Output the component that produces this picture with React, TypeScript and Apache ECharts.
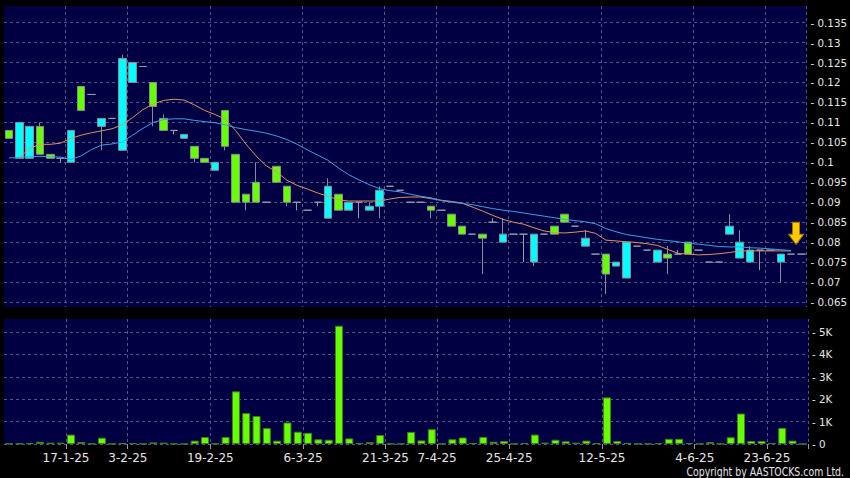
import React, { useEffect, useRef } from "react";
import * as echarts from "echarts";

// ---- data ----
// one slot per trading day shown; labels sit on the left boundary of these slots
const dateLabels: [number, string][] = [
  [6, "17-1-25"], [12, "3-2-25"], [20, "19-2-25"], [29, "6-3-25"], [37, "21-3-25"],
  [42, "7-4-25"], [49, "25-4-25"], [58, "12-5-25"], [67, "4-6-25"], [74, "23-6-25"],
];
const slotCount = 78;
const categories: string[] = Array.from({ length: slotCount }, (_, i) => "d" + i);

// [open, close, low, high]
const ohlc: number[][] = [
  [0.108, 0.106, 0.106, 0.108], [0.101, 0.110, 0.101, 0.110], [0.101, 0.109, 0.101, 0.109], [0.109, 0.102, 0.102, 0.110],
  [0.102, 0.101, 0.101, 0.102], [0.101, 0.101, 0.100, 0.101], [0.100, 0.108, 0.100, 0.108], [0.119, 0.113, 0.113, 0.119],
  [0.117, 0.117, 0.117, 0.117], [0.109, 0.111, 0.103, 0.111], [0.111, 0.111, 0.111, 0.111], [0.103, 0.126, 0.103, 0.127],
  [0.120, 0.125, 0.120, 0.125], [0.124, 0.124, 0.124, 0.124], [0.120, 0.114, 0.109, 0.120], [0.111, 0.108, 0.108, 0.112],
  [0.108, 0.108, 0.107, 0.108], [0.106, 0.107, 0.106, 0.107], [0.104, 0.101, 0.100, 0.104], [0.101, 0.100, 0.100, 0.101],
  [0.098, 0.100, 0.098, 0.100], [0.113, 0.104, 0.103, 0.113], [0.102, 0.090, 0.090, 0.102], [0.092, 0.090, 0.088, 0.092],
  [0.095, 0.090, 0.090, 0.100], [0.090, 0.090, 0.090, 0.090], [0.099, 0.095, 0.095, 0.099], [0.094, 0.090, 0.089, 0.094],
  [0.090, 0.090, 0.088, 0.090], [0.088, 0.088, 0.088, 0.088], [0.090, 0.090, 0.089, 0.090], [0.086, 0.094, 0.086, 0.096],
  [0.092, 0.088, 0.088, 0.092], [0.088, 0.090, 0.088, 0.090], [0.090, 0.090, 0.086, 0.090], [0.088, 0.089, 0.088, 0.090],
  [0.089, 0.093, 0.086, 0.094], [0.094, 0.094, 0.094, 0.094], [0.093, 0.093, 0.093, 0.093], [0.090, 0.090, 0.090, 0.090],
  [0.090, 0.090, 0.090, 0.090], [0.089, 0.088, 0.086, 0.089], [0.088, 0.088, 0.088, 0.088], [0.087, 0.084, 0.084, 0.087],
  [0.084, 0.082, 0.082, 0.084], [0.082, 0.082, 0.082, 0.082], [0.082, 0.081, 0.072, 0.082], [0.085, 0.085, 0.085, 0.086],
  [0.080, 0.082, 0.080, 0.086], [0.082, 0.082, 0.082, 0.082], [0.082, 0.082, 0.075, 0.082], [0.075, 0.082, 0.074, 0.082],
  [0.082, 0.082, 0.082, 0.082], [0.084, 0.082, 0.082, 0.084], [0.087, 0.085, 0.085, 0.087], [0.084, 0.084, 0.084, 0.084],
  [0.079, 0.081, 0.079, 0.083], [0.077, 0.077, 0.077, 0.077], [0.077, 0.072, 0.067, 0.077], [0.074, 0.075, 0.074, 0.075],
  [0.071, 0.080, 0.071, 0.080], [0.079, 0.079, 0.079, 0.079], [0.078, 0.078, 0.078, 0.078], [0.075, 0.078, 0.075, 0.078],
  [0.077, 0.076, 0.072, 0.079], [0.077, 0.077, 0.077, 0.078], [0.080, 0.077, 0.077, 0.080], [0.078, 0.078, 0.078, 0.078],
  [0.075, 0.075, 0.075, 0.075], [0.075, 0.075, 0.075, 0.075], [0.082, 0.084, 0.082, 0.087], [0.076, 0.080, 0.076, 0.083],
  [0.075, 0.078, 0.075, 0.079], [0.078, 0.078, 0.073, 0.078], [0.078, 0.078, 0.078, 0.078], [0.075, 0.077, 0.070, 0.077],
  [0.077, 0.077, 0.077, 0.077], [0.077, 0.077, 0.077, 0.077],
];

// short moving average (orange)
const maShort: (number | null)[] = [
  null, 0.1012, 0.1035, 0.1045, 0.1045, 0.1048, 0.1060, 0.1068, 0.1074, 0.1079,
  0.1084, 0.1094, 0.1112, 0.1132, 0.1146, 0.1155, 0.1158, 0.1156, 0.1144, 0.1130,
  0.1120, 0.1108, 0.1080, 0.1046, 0.1016, 0.0991, 0.0976, 0.0955, 0.0942, 0.0933,
  0.0923, 0.0915, 0.0906, 0.0903, 0.0903, 0.0903, 0.0903, 0.0908, 0.0912, 0.0913,
  0.0913, 0.0909, 0.0905, 0.0902, 0.0898, 0.0888, 0.0878, 0.0867, 0.0857, 0.0850,
  0.0845, 0.0836, 0.0828, 0.0824, 0.0823, 0.0825, 0.0828, 0.0822, 0.0805, 0.0803,
  0.0801, 0.0799, 0.0796, 0.0792, 0.0782, 0.0772, 0.0770, 0.0768, 0.0769, 0.0771,
  0.0774, 0.0778, 0.0778, 0.0778, 0.0778, 0.0778, 0.0778, null,
];

// long moving average (blue)
const maLong: (number | null)[] = [
  0.1011, 0.1012, 0.1014, 0.1015, 0.1014, 0.1013, 0.1007, 0.1016, 0.1032, 0.1043,
  0.1046, 0.1051, 0.1068, 0.1085, 0.1100, 0.1107, 0.1109, 0.1109, 0.1105, 0.1102,
  0.1099, 0.1094, 0.1087, 0.1082, 0.1078, 0.1073, 0.1066, 0.1057, 0.1045, 0.1031,
  0.1018, 0.1005, 0.0986, 0.0969, 0.0956, 0.0944, 0.0934, 0.0929, 0.0926, 0.0920,
  0.0915, 0.0911, 0.0904, 0.0900, 0.0897, 0.0894, 0.0889, 0.0884, 0.0880, 0.0877,
  0.0873, 0.0869, 0.0865, 0.0861, 0.0857, 0.0854, 0.0851, 0.0846, 0.0834, 0.0826,
  0.0819, 0.0815, 0.0811, 0.0807, 0.0804, 0.0801, 0.0797, 0.0795, 0.0792, 0.0789,
  0.0788, 0.0788, 0.0786, 0.0785, 0.0783, 0.0781, 0.0779, null,
];

// volume (shares, K shown on axis)
const volume: number[] = [
  20, 20, 30, 100, 60, 60, 420, 90, 10, 280,
  10, 40, 40, 10, 70, 60, 10, 10, 150, 310,
  10, 310, 2350, 1380, 1250, 710, 150, 960, 550, 500,
  210, 190, 5280, 250, 30, 80, 400, 10, 10, 540,
  160, 660, 10, 210, 290, 50, 310, 100, 130, 10,
  50, 420, 60, 190, 120, 60, 150, 40, 2080, 130,
  50, 10, 10, 40, 230, 230, 40, 10, 80, 10,
  300, 1360, 130, 130, 40, 720, 150, 0,
];

const priceTicks: number[] = [
  0.065, 0.07, 0.075, 0.08, 0.085, 0.09, 0.095, 0.1, 0.105, 0.11, 0.115, 0.12, 0.125, 0.13, 0.135,
];
const volumeTicks: number[] = [0, 1000, 2000, 3000, 4000, 5000];
const arrowMark: [string, number] = ["d76", 0.0822];
const copyright = "Copyright by AASTOCKS.com Ltd.";

export default function App() {
  const ref = useRef<HTMLDivElement>(null);

  useEffect(() => {
    if (!ref.current) return;
    const chart = echarts.init(ref.current, undefined, { renderer: "svg" });
    const labelIdx = new Set(dateLabels.map((d) => d[0]));
    const labelMap: Record<number, string> = {};
    dateLabels.forEach(([i, t]) => (labelMap[i] = t));
    const showAt = (i: number) => labelIdx.has(i);
    const gridLine = { color: "#55558a", width: 1, type: [3, 3] as number[] };
    const textColor = "#e6e6e6";
    const font = "DejaVu Sans";

    chart.setOption({
      animation: false,
      backgroundColor: "#000000",
      textStyle: { fontFamily: font },
      grid: [
        { left: 4, right: 42, top: 6, height: 301, show: true, backgroundColor: "#000042", borderWidth: 0 },
        { left: 4, right: 42, top: 319, height: 125, show: true, backgroundColor: "#000042", borderWidth: 0 },
      ],
      xAxis: [
        {
          type: "category", gridIndex: 0, data: categories, boundaryGap: true,
          axisLine: { show: false }, axisTick: { show: false }, axisLabel: { show: false },
          splitLine: { show: true, interval: showAt, lineStyle: gridLine },
        },
        {
          type: "category", gridIndex: 1, data: categories, boundaryGap: true,
          axisLine: { show: false },
          axisTick: { show: true, interval: showAt, length: 5, lineStyle: { color: "#9a9a9a" } },
          axisLabel: {
            interval: showAt, formatter: (_v: string, i: number) => labelMap[i] || "",
            color: textColor, fontSize: 12, fontFamily: font, margin: 8, padding: [0, 10, 0, 0],
          },
          splitLine: { show: true, interval: showAt, lineStyle: gridLine },
        },
      ],
      yAxis: [
        {
          type: "value", gridIndex: 0, position: "right", min: 0.06375, max: 0.13916, scale: true,
          axisLine: { show: false },
          axisTick: { show: false, customValues: priceTicks },
          axisLabel: {
            customValues: priceTicks,
            formatter: (v: number) => "- " + String(parseFloat(v.toFixed(4))),
            color: textColor, fontSize: 10.3, fontFamily: font, margin: 4,
          },
          splitLine: { show: true, lineStyle: gridLine },
        },
        {
          type: "value", gridIndex: 1, position: "right", min: 0, max: 5580,
          axisLine: { show: false },
          axisTick: { show: false, customValues: volumeTicks },
          axisLabel: {
            customValues: volumeTicks,
            formatter: (v: number) => "- " + (v === 0 ? "0" : v / 1000 + "K"),
            color: textColor, fontSize: 10.3, fontFamily: font, margin: 4,
          },
          splitLine: { show: true, lineStyle: gridLine },
        },
      ],
      series: [
        {
          type: "candlestick", xAxisIndex: 0, yAxisIndex: 0, data: ohlc, barWidth: 8,
          itemStyle: {
            color: "#00ffff", color0: "#66ff00",
            borderColor: "#8a8a9a", borderColor0: "#8a8a9a", borderColorDoji: "#9a9aaa", borderWidth: 1,
          },
          markPoint: {
            silent: true,
            data: [
              {
                coord: arrowMark,
                symbol: "path://M4,0 L11,0 L11,12 L15,12 L7.5,22 L0,12 L4,12 Z",
                symbolSize: [15, 22], symbolOffset: [5, 0],
                itemStyle: { color: "#ffcc00", borderColor: "#b07a00", borderWidth: 1 },
                label: { show: false },
              },
            ],
          },
        },
        {
          type: "line", xAxisIndex: 0, yAxisIndex: 0, data: maShort, symbol: "none",
          lineStyle: { color: "#e0905e", width: 1 }, z: 3,
        },
        {
          type: "line", xAxisIndex: 0, yAxisIndex: 0, data: maLong, symbol: "none",
          lineStyle: { color: "#3aa2e6", width: 1 }, z: 3,
        },
        {
          type: "bar", xAxisIndex: 1, yAxisIndex: 1, data: volume, barWidth: 8,
          itemStyle: { color: "#66ff00", borderColor: "#3f7f1f", borderWidth: 1 },
        },
      ],
      graphic: [
        {
          type: "text", x: 844, y: 472, scaleX: 0.78,
          style: {
            text: copyright, fill: textColor, font: `12px "${font}"`,
            align: "right", verticalAlign: "middle",
          },
        },
      ],
    });
    return () => chart.dispose();
  }, []);

  return (
    <div
      ref={ref}
      style={{ position: "fixed", left: 0, top: 0, width: 850, height: 478 }}
    />
  );
}
